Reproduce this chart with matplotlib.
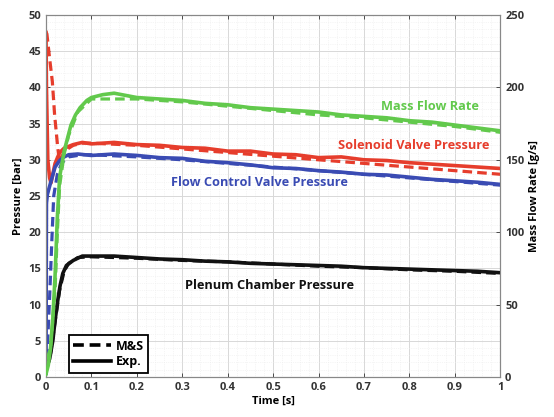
import matplotlib
matplotlib.use("Agg")
import matplotlib.pyplot as plt
from matplotlib.lines import Line2D
from matplotlib.ticker import MultipleLocator

plt.rcParams['font.family'] = ['Open Sans', 'DejaVu Sans']

# ---------------- data ----------------
# Solenoid valve pressure [bar]
t_sv_exp = [0, 0.001, 0.004, 0.008, 0.011, 0.015, 0.02, 0.03, 0.04, 0.06, 0.08, 0.1, 0.15, 0.2,
            0.25, 0.3, 0.35, 0.4, 0.45, 0.5, 0.55, 0.6, 0.65, 0.7, 0.75, 0.8, 0.85, 0.9, 0.95, 1.0]
p_sv_exp = [47.6, 40.0, 30.0, 27.5, 26.8, 28.0, 29.5, 31.0, 31.6, 32.1, 32.4, 32.2, 32.4, 32.1,
            32.0, 31.7, 31.6, 31.2, 31.2, 30.8, 30.7, 30.3, 30.4, 30.0, 29.9, 29.6, 29.4, 29.2,
            29.0, 28.8]
t_sv_ms = [0, 0.002, 0.008, 0.014, 0.019, 0.026, 0.03, 0.035, 0.04, 0.06, 0.08, 0.1, 0.2, 0.3,
           0.4, 0.5, 0.6, 0.7, 0.8, 0.9, 1.0]
p_sv_ms = [47.6, 47.4, 44.0, 40.8, 36.2, 31.6, 29.7, 30.4, 31.2, 32.0, 32.3, 32.3, 32.0, 31.5,
           31.0, 30.5, 30.0, 29.5, 29.0, 28.5, 28.0]

# Flow control valve pressure [bar]
t_fc_exp = [0, 0.001, 0.003, 0.01, 0.02, 0.03, 0.04, 0.05, 0.07, 0.1, 0.15, 0.2, 0.25, 0.3, 0.35,
            0.4, 0.45, 0.5, 0.55, 0.6, 0.65, 0.7, 0.75, 0.8, 0.85, 0.9, 0.95, 1.0]
p_fc_exp = [0.5, 24.0, 25.2, 26.8, 29.0, 29.9, 30.4, 30.7, 30.8, 30.6, 30.8, 30.6, 30.3, 30.2,
            29.8, 29.6, 29.3, 28.9, 28.8, 28.5, 28.3, 28.0, 27.9, 27.6, 27.3, 27.1, 26.9, 26.6]
t_fc_ms = [0, 0.003, 0.008, 0.013, 0.017, 0.025, 0.035, 0.05, 0.08, 0.1, 0.2, 0.3, 0.4, 0.5, 0.6,
           0.7, 0.8, 0.9, 1.0]
p_fc_ms = [0.5, 4.0, 11.0, 19.0, 25.0, 28.0, 29.6, 30.4, 30.7, 30.7, 30.4, 30.0, 29.5, 29.0,
           28.5, 28.0, 27.5, 27.0, 26.5]

# Plenum chamber pressure [bar]
t_pl_exp = [0, 0.002, 0.008, 0.015, 0.02, 0.026, 0.031, 0.037, 0.045, 0.06, 0.08, 0.1, 0.15,
            0.2, 0.25, 0.3, 0.35, 0.4, 0.45, 0.5, 0.55, 0.6, 0.65, 0.7, 0.75, 0.8, 0.85, 0.9,
            0.95, 1.0]
p_pl_exp = [1.0, 1.5, 2.5, 5.0, 7.8, 10.6, 12.6, 14.3, 15.4, 16.1, 16.7, 16.7, 16.7, 16.5, 16.3,
            16.2, 16.0, 15.9, 15.7, 15.6, 15.5, 15.4, 15.3, 15.1, 15.0, 14.9, 14.8, 14.7, 14.6,
            14.4]
t_pl_ms = [0, 0.005, 0.01, 0.02, 0.03, 0.04, 0.05, 0.07, 0.1, 0.2, 0.3, 0.4, 0.5, 0.6, 0.7, 0.8,
           0.9, 1.0]
p_pl_ms = [1.0, 1.8, 3.2, 7.6, 12.0, 14.6, 15.7, 16.5, 16.6, 16.4, 16.1, 15.9, 15.6, 15.3, 15.1,
           14.8, 14.6, 14.3]

# Mass flow rate [g/s]
t_mf_exp = [0, 0.005, 0.01, 0.015, 0.02, 0.025, 0.03, 0.04, 0.05, 0.055, 0.065, 0.075, 0.09, 0.1,
            0.125, 0.15, 0.2, 0.25, 0.3, 0.35, 0.4, 0.45, 0.5, 0.55, 0.6, 0.65, 0.7, 0.75, 0.8,
            0.85, 0.9, 0.95, 1.0]
mf_exp = [2, 8, 20, 40, 70, 110, 138, 156, 168, 174, 181, 186, 191, 193, 195, 196, 193, 192, 191,
          189, 188, 186, 185, 184, 183, 181, 180, 179, 177, 176, 174, 172, 170]
t_mf_ms = [0, 0.005, 0.01, 0.015, 0.02, 0.025, 0.03, 0.04, 0.05, 0.07, 0.1, 0.2, 0.3, 0.4, 0.5,
           0.6, 0.7, 0.8, 0.9, 1.0]
mf_ms = [12, 15, 20, 40, 60, 100, 132, 154, 167, 183, 192, 192, 190, 187, 184, 181, 179, 176,
         173, 169]

# ---------------- styles ----------------
c_green = '#62c94c'
c_red = '#e63d2c'
c_blue = '#3a4bb3'
c_black = '#111111'

fig = plt.figure(figsize=(5.54, 4.17), dpi=100)
ax = fig.add_axes([0.083, 0.096, 0.820, 0.868])
ax2 = ax.twinx()

lw_exp = 2.6
lw_ms = 2.3
dash = (3.0, 1.6)

ax2.plot(t_mf_ms, mf_ms, color=c_green, lw=lw_ms, ls=(0, dash), zorder=2)
ax2.plot(t_mf_exp, mf_exp, color=c_green, lw=lw_exp, zorder=3)

ax.plot(t_sv_ms, p_sv_ms, color=c_red, lw=lw_ms, ls=(0, dash), zorder=2)
ax.plot(t_sv_exp, p_sv_exp, color=c_red, lw=lw_exp, zorder=3)
ax.plot(t_fc_ms, p_fc_ms, color=c_blue, lw=lw_ms, ls=(0, dash), zorder=2)
ax.plot(t_fc_exp, p_fc_exp, color=c_blue, lw=lw_exp, zorder=3)
ax.plot(t_pl_ms, p_pl_ms, color=c_black, lw=lw_ms, ls=(0, dash), zorder=2)
ax.plot(t_pl_exp, p_pl_exp, color=c_black, lw=lw_exp, zorder=3)

ax.set_xlim(0, 1)
ax.set_ylim(0, 50)
ax2.set_ylim(0, 250)

ax.xaxis.set_major_locator(MultipleLocator(0.1))
ax.xaxis.set_minor_locator(MultipleLocator(0.02))
ax.yaxis.set_major_locator(MultipleLocator(5))
ax.yaxis.set_minor_locator(MultipleLocator(1))
ax2.yaxis.set_major_locator(MultipleLocator(50))
ax2.yaxis.set_minor_locator(MultipleLocator(10))

ax.grid(which='major', color='#d8d8d8', lw=0.7)
ax.grid(which='minor', color='#ececec', lw=0.5, ls=':')
ax.set_axisbelow(True)

xt = [0, 0.1, 0.2, 0.3, 0.4, 0.5, 0.6, 0.7, 0.8, 0.9, 1]
ax.set_xticks(xt)
ax.set_xticklabels(['0', '0.1', '0.2', '0.3', '0.4', '0.5', '0.6', '0.7', '0.8', '0.9', '1'])

tick_kw = dict(labelsize=8, colors='#333333', direction='in', length=3, width=0.6)
ax.tick_params(axis='both', which='major', top=True, right=False, **tick_kw)
ax.tick_params(axis='both', which='minor', length=0)
ax2.tick_params(axis='y', which='major', **tick_kw)
ax2.tick_params(axis='y', which='minor', length=0)
for lab in ax.get_xticklabels() + ax.get_yticklabels() + ax2.get_yticklabels():
    lab.set_fontweight('bold')

for sp in list(ax.spines.values()) + list(ax2.spines.values()):
    sp.set_color('#888888')
    sp.set_linewidth(0.8)

ax.set_xlabel('Time [s]', fontsize=8, fontweight='bold', labelpad=2)
ax.set_ylabel('Pressure [bar]', fontsize=8, fontweight='bold', labelpad=3)
ax2.set_ylabel('Mass Flow Rate [g/s]', fontsize=8, fontweight='bold', labelpad=3)

lab_fs = 9.2
ax.text(0.845, 37.3, 'Mass Flow Rate', color=c_green, fontsize=lab_fs, fontweight='bold',
        ha='center', va='center', zorder=5)
ax.text(0.81, 32.0, 'Solenoid Valve Pressure', color=c_red, fontsize=lab_fs, fontweight='bold',
        ha='center', va='center', zorder=5)
ax.text(0.47, 26.8, 'Flow Control Valve Pressure', color=c_blue, fontsize=lab_fs,
        fontweight='bold', ha='center', va='center', zorder=5)
ax.text(0.493, 12.7, 'Plenum Chamber Pressure', color=c_black, fontsize=lab_fs,
        fontweight='bold', ha='center', va='center', zorder=5)

handles = [Line2D([0], [0], color='black', lw=2.6, ls=(0, dash)),
           Line2D([0], [0], color='black', lw=2.6)]
leg = ax.legend(handles, ['M&S', 'Exp.'], loc='lower left', bbox_to_anchor=(0.045, 0.005),
                fontsize=9, frameon=True, fancybox=False, handlelength=3.0,
                borderpad=0.35, labelspacing=0.2, handletextpad=0.4, borderaxespad=0.2)
leg.get_frame().set_edgecolor('black')
leg.get_frame().set_linewidth(1.3)
leg.get_frame().set_alpha(1)
for txt in leg.get_texts():
    txt.set_fontweight('bold')
leg.set_zorder(10)

fig.savefig('out.png', dpi=100)
